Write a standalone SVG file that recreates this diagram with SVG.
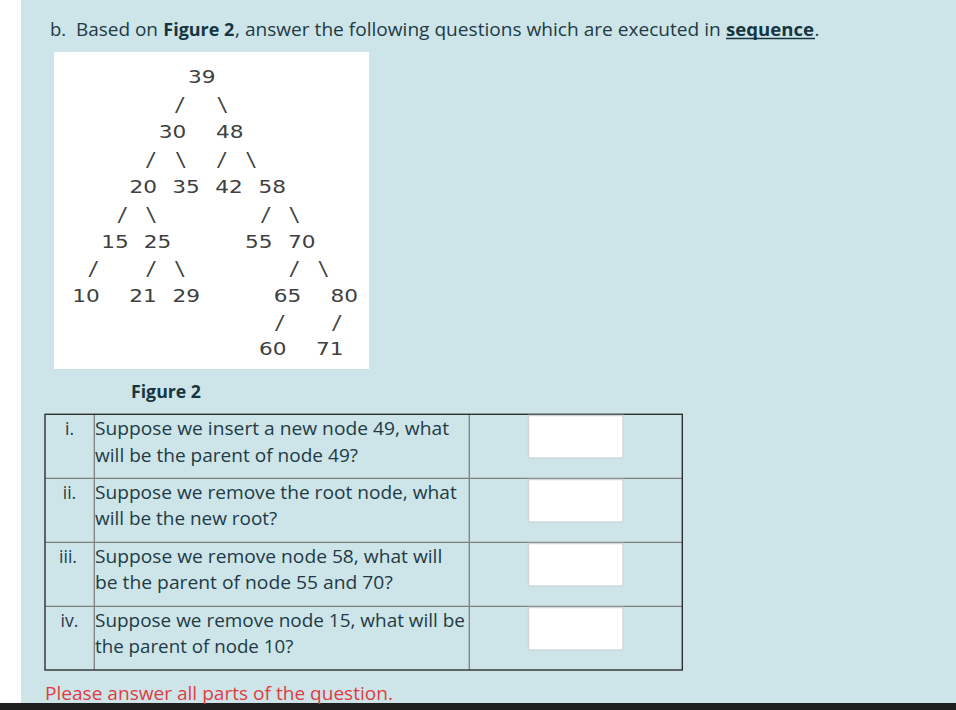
<svg xmlns="http://www.w3.org/2000/svg" width="956" height="710" viewBox="0 0 956 710">
<style>
.txt{font-family:"Open Sans","Liberation Sans",sans-serif;fill:#213a45;}
.hd{font-size:18.5px;}
.q{font-size:17.5px;}
.b{font-weight:700;fill:#153641;}
.num{font-family:"DejaVu Sans","Liberation Sans",sans-serif;font-size:18px;fill:#404040;text-anchor:middle;}
.sl{font-family:"DejaVu Sans Mono","Liberation Mono",monospace;font-size:19px;fill:#404040;text-anchor:middle;}
.inner{stroke:#7f7f7f;stroke-width:1.3;fill:none;}
.ans{fill:#ffffff;stroke:#cfd7da;stroke-width:1.5;}
.rn{text-anchor:middle;}
</style>
<rect x="0" y="0" width="956" height="710" fill="#ffffff"/>
<rect x="21" y="0" width="935" height="704" fill="#cde5e9"/>
<rect x="0" y="703" width="956" height="7" fill="#1e1e1e"/>

<g id="header">
<text class="txt hd" x="50" y="36">b.</text>
<text class="txt hd" x="76" y="36" textLength="82" lengthAdjust="spacingAndGlyphs">Based on</text>
<text class="txt hd b" x="163.3" y="36" textLength="71" lengthAdjust="spacingAndGlyphs">Figure 2</text>
<text class="txt hd" x="235" y="36" textLength="485.7" lengthAdjust="spacingAndGlyphs">, answer the following questions which are executed in</text>
<text class="txt hd b" x="726" y="36" textLength="88" lengthAdjust="spacingAndGlyphs">sequence</text>
<line x1="726" y1="38.5" x2="815" y2="38.5" stroke="#153641" stroke-width="1.6"/>
<text class="txt hd" x="814.5" y="36">.</text>
</g>

<g id="figure">
<rect x="54" y="52" width="315" height="317" fill="#ffffff"/>
<g id="connectors">
<text class="sl" x="180" y="111.3" textLength="12" lengthAdjust="spacingAndGlyphs">/</text>
<text class="sl" x="222.5" y="111.3" textLength="12" lengthAdjust="spacingAndGlyphs">\</text>
<text class="sl" x="151" y="166.3" textLength="12" lengthAdjust="spacingAndGlyphs">/</text>
<text class="sl" x="181" y="166.3" textLength="12" lengthAdjust="spacingAndGlyphs">\</text>
<text class="sl" x="222" y="166.3" textLength="12" lengthAdjust="spacingAndGlyphs">/</text>
<text class="sl" x="251.3" y="166.3" textLength="12" lengthAdjust="spacingAndGlyphs">\</text>
<text class="sl" x="122.5" y="220.5" textLength="12" lengthAdjust="spacingAndGlyphs">/</text>
<text class="sl" x="151.3" y="220.5" textLength="12" lengthAdjust="spacingAndGlyphs">\</text>
<text class="sl" x="266" y="220.5" textLength="12" lengthAdjust="spacingAndGlyphs">/</text>
<text class="sl" x="294.5" y="220.5" textLength="12" lengthAdjust="spacingAndGlyphs">\</text>
<text class="sl" x="93.5" y="275" textLength="12" lengthAdjust="spacingAndGlyphs">/</text>
<text class="sl" x="151.3" y="275" textLength="12" lengthAdjust="spacingAndGlyphs">/</text>
<text class="sl" x="180" y="275" textLength="12" lengthAdjust="spacingAndGlyphs">\</text>
<text class="sl" x="294.5" y="275" textLength="12" lengthAdjust="spacingAndGlyphs">/</text>
<text class="sl" x="323.5" y="275" textLength="12" lengthAdjust="spacingAndGlyphs">\</text>
<text class="sl" x="280" y="328.5" textLength="12" lengthAdjust="spacingAndGlyphs">/</text>
<text class="sl" x="337" y="328.5" textLength="12" lengthAdjust="spacingAndGlyphs">/</text>
</g>
<g id="node-39"><text class="num" x="201.7" y="83.3" textLength="27.5" lengthAdjust="spacingAndGlyphs">39</text></g>
<g id="node-30"><text class="num" x="172.5" y="138.3" textLength="27.5" lengthAdjust="spacingAndGlyphs">30</text></g>
<g id="node-48"><text class="num" x="229.7" y="138.3" textLength="27.5" lengthAdjust="spacingAndGlyphs">48</text></g>
<g id="node-20"><text class="num" x="143.2" y="193.3" textLength="27.5" lengthAdjust="spacingAndGlyphs">20</text></g>
<g id="node-35"><text class="num" x="186.1" y="193.3" textLength="27.5" lengthAdjust="spacingAndGlyphs">35</text></g>
<g id="node-42"><text class="num" x="229" y="193.3" textLength="27.5" lengthAdjust="spacingAndGlyphs">42</text></g>
<g id="node-58"><text class="num" x="272.2" y="193.3" textLength="27.5" lengthAdjust="spacingAndGlyphs">58</text></g>
<g id="node-15"><text class="num" x="115" y="248.3" textLength="27.5" lengthAdjust="spacingAndGlyphs">15</text></g>
<g id="node-25"><text class="num" x="157.5" y="248.3" textLength="27.5" lengthAdjust="spacingAndGlyphs">25</text></g>
<g id="node-55"><text class="num" x="258.8" y="248.3" textLength="27.5" lengthAdjust="spacingAndGlyphs">55</text></g>
<g id="node-70"><text class="num" x="301.7" y="248.3" textLength="27.5" lengthAdjust="spacingAndGlyphs">70</text></g>
<g id="node-10"><text class="num" x="86" y="301.7" textLength="27.5" lengthAdjust="spacingAndGlyphs">10</text></g>
<g id="node-21"><text class="num" x="143" y="301.7" textLength="27.5" lengthAdjust="spacingAndGlyphs">21</text></g>
<g id="node-29"><text class="num" x="186.3" y="301.7" textLength="27.5" lengthAdjust="spacingAndGlyphs">29</text></g>
<g id="node-65"><text class="num" x="287.5" y="301.7" textLength="27.5" lengthAdjust="spacingAndGlyphs">65</text></g>
<g id="node-80"><text class="num" x="344.2" y="301.7" textLength="27.5" lengthAdjust="spacingAndGlyphs">80</text></g>
<g id="node-60"><text class="num" x="272.8" y="355" textLength="27.5" lengthAdjust="spacingAndGlyphs">60</text></g>
<g id="node-71"><text class="num" x="329.8" y="355" textLength="27.5" lengthAdjust="spacingAndGlyphs">71</text></g>
</g>

<g id="caption">
<text class="txt q b" x="131" y="398.3" textLength="70" lengthAdjust="spacingAndGlyphs">Figure 2</text>
</g>

<g id="table">
<line class="inner" x1="94.3" y1="414.3" x2="94.3" y2="670"/>
<line class="inner" x1="469.3" y1="414.3" x2="469.3" y2="670"/>
<line class="inner" x1="45" y1="478.3" x2="682.3" y2="478.3"/>
<line class="inner" x1="45" y1="542.3" x2="682.3" y2="542.3"/>
<line class="inner" x1="45" y1="606.3" x2="682.3" y2="606.3"/>
<rect x="45" y="414.3" width="637.3" height="255.7" fill="none" stroke="#2f2f2f" stroke-width="1.4"/>

<g id="row-i">
<text class="txt q rn" x="69.5" y="435">i.</text>
<text class="txt q" x="95" y="435" textLength="354" lengthAdjust="spacingAndGlyphs">Suppose we insert a new node 49, what</text>
<text class="txt q" x="95" y="461.7" textLength="263" lengthAdjust="spacingAndGlyphs">will be the parent of node 49?</text>
<rect class="ans" x="528.5" y="415.5" width="94.5" height="42.5"/>
</g>
<g id="row-ii">
<text class="txt q rn" x="69.5" y="499.3">ii.</text>
<text class="txt q" x="95" y="499.3" textLength="361.7" lengthAdjust="spacingAndGlyphs">Suppose we remove the root node, what</text>
<text class="txt q" x="95" y="525.3" textLength="182.3" lengthAdjust="spacingAndGlyphs">will be the new root?</text>
<rect class="ans" x="528.5" y="479.5" width="94.5" height="42.5"/>
</g>
<g id="row-iii">
<text class="txt q rn" x="68" y="562.7">iii.</text>
<text class="txt q" x="95" y="562.7" textLength="347.3" lengthAdjust="spacingAndGlyphs">Suppose we remove node 58, what will</text>
<text class="txt q" x="95" y="589.3" textLength="297.7" lengthAdjust="spacingAndGlyphs">be the parent of node 55 and 70?</text>
<rect class="ans" x="528.5" y="543.5" width="94.5" height="42.5"/>
</g>
<g id="row-iv">
<text class="txt q rn" x="69.5" y="626.7">iv.</text>
<text class="txt q" x="95" y="626.7" textLength="370" lengthAdjust="spacingAndGlyphs">Suppose we remove node 15, what will be</text>
<text class="txt q" x="95" y="653.3" textLength="198.3" lengthAdjust="spacingAndGlyphs">the parent of node 10?</text>
<rect class="ans" x="528.5" y="607.5" width="94.5" height="42.5"/>
</g>
</g>

<g id="footer">
<text x="45" y="700" font-family="'Open Sans','Liberation Sans',sans-serif" font-size="17.5" fill="#e23b3f" textLength="348" lengthAdjust="spacingAndGlyphs">Please answer all parts of the question.</text>
</g>
</svg>
